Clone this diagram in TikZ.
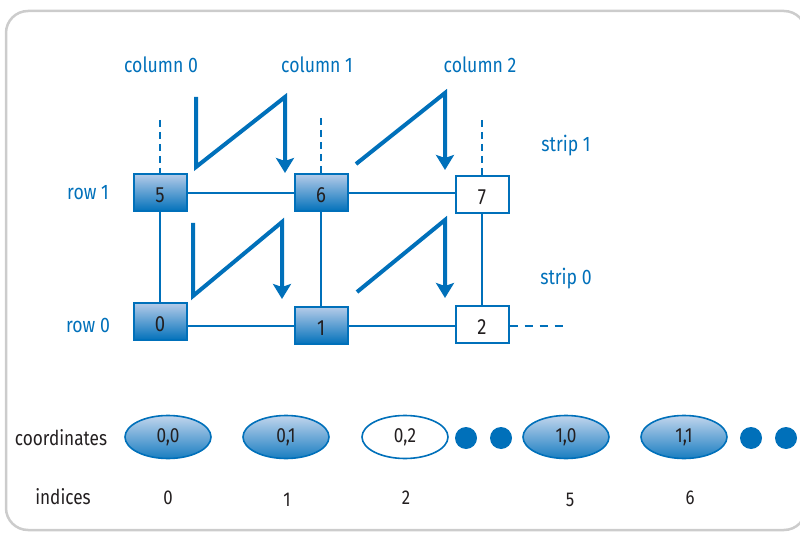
\documentclass[tikz,border=0pt]{standalone}
\usepackage{fontspec}
\setmainfont[FakeStretch=0.84]{Fira Sans}
\usetikzlibrary{arrows.meta,shapes.geometric}

\definecolor{oblue}{RGB}{0,112,186}
\definecolor{lblue}{RGB}{178,202,232}
\definecolor{frame}{RGB}{204,204,204}
\definecolor{ink}{RGB}{35,31,32}

\tikzset{
  lbl/.style={text=oblue, font=\fontsize{21}{23}\selectfont, inner sep=0pt},
  side/.style={text=ink, font=\fontsize{20.5}{23}\selectfont, inner sep=0pt},
  idx/.style={text=ink, font=\fontsize{20}{22}\selectfont, inner sep=0pt},
  cell/.style={draw=oblue, line width=2pt, minimum width=53pt, minimum height=37pt,
    inner sep=0pt, text=ink, font=\fontsize{22}{24}\selectfont,
    text height=19pt, text depth=0pt},
  filled/.style={cell, top color=lblue, bottom color=oblue},
  blank/.style={cell, fill=white},
  coord/.style={ellipse, draw=oblue, line width=1.6pt, minimum width=86pt,
    minimum height=43pt, inner sep=0pt, text=ink, font=\fontsize{20.5}{22}\selectfont},
  cfill/.style={coord, top color=lblue!80!white, bottom color=oblue!90!white},
  cblank/.style={coord, fill=white},
  dot/.style={circle, fill=oblue, minimum size=22pt, inner sep=0pt},
  link/.style={draw=oblue, line width=2pt},
  guide/.style={draw=oblue, line width=2pt, dash pattern=on 7pt off 5pt},
  hguide/.style={draw=oblue, line width=2pt, dash pattern=on 8pt off 7pt},
  zig/.style={draw=oblue, line width=4pt, line join=miter,
    -{Stealth[length=15pt,width=18pt,inset=3pt]}},
}

\begin{document}
\begin{tikzpicture}[x=1pt, y=-1pt]
\useasboundingbox (0,0) rectangle (800,534);

% outer frame
\draw[frame, line width=2.5pt, rounded corners=22pt] (6,11) rectangle (806,530);

% column, row and strip labels
\node[lbl] (c0) at (161,65) {column 0};
\node[lbl] (c1) at (317,65) {column 1};
\node[lbl] (c2) at (480,65) {column 2};
\node[lbl] (s1) at (566,146) {strip 1};
\node[lbl] (s0) at (566,279) {strip 0};
\node[lbl] (r1) at (88,193) {row 1};
\node[lbl] (r0) at (88,325) {row 0};

% grid cells
\node[filled] (b5) at (160,193) {5};
\node[filled] (b6) at (321,193) {6};
\node[blank]  (b7) at (482,195) {7};
\node[filled] (b0) at (160,322) {0};
\node[filled] (b1) at (321,326) {1};
\node[blank]  (b2) at (482,325) {2};

% grid lines
\draw[link] (b5) -- (b0);
\draw[link] (b6) -- (b1);
\draw[link] (b7) -- (b2);
\draw[link] (b5.east) -- (b6.west);
\draw[link] (b6.east) -- (b6.east -| b7.west);
\draw[link] (b0.east |- b1) -- (b1.west);
\draw[link] (b1.east) -- (b1.east -| b2.west);

% dashed continuations
\coordinate (t0) at (160,120);
\coordinate (t1) at (321,118);
\coordinate (t2) at (482,120);
\coordinate (e2) at (568,326);
\draw[guide] (t0) -- (b5.north);
\draw[guide] (t1) -- (b6.north);
\draw[guide] (t2) -- (b7.north);
\draw[hguide] (b2.east |- e2) -- (e2);

% traversal order within each strip
\coordinate (u0) at (196,97);  \coordinate (u1) at (196,167);
\coordinate (u2) at (285,97);  \coordinate (u3) at (285,173);
\coordinate (v0) at (356,164); \coordinate (v1) at (445,93);
\coordinate (v2) at (445,170);
\coordinate (w0) at (193,223); \coordinate (w1) at (193,296);
\coordinate (w2) at (282,222); \coordinate (w3) at (282,299);
\coordinate (z0) at (357,292); \coordinate (z1) at (445,220);
\coordinate (z2) at (445,298);
\draw[zig] (u0) -- (u1) -- (u2) -- (u3);
\draw[zig] (v0) -- (v1) -- (v2);
\draw[zig] (w0) -- (w1) -- (w2) -- (w3);
\draw[zig] (z0) -- (z1) -- (z2);

% linear storage
\node[side] (coords) at (61,438) {coordinates};
\node[side] (inds) at (63,497) {indices};
\node[cfill]  (p00) at (168,437) {0,0};
\node[cfill]  (p01) at (286,437) {0,1};
\node[cblank] (p02) at (405,437) {0,2};
\node[dot] (d1) at (466,438) {};
\node[dot] (d2) at (501,438) {};
\node[cfill]  (p10) at (566,437) {1,0};
\node[cfill]  (p11) at (684,437) {1,1};
\node[dot] (d3) at (751,438) {};
\node[dot] (d4) at (786,438) {};

\node[idx] (i0) at (168,498) {0};
\node[idx] (i1) at (287,500) {1};
\node[idx] (i2) at (406,498) {2};
\node[idx] (i5) at (570,500) {5};
\node[idx] (i6) at (690,498) {6};
\end{tikzpicture}
\end{document}
